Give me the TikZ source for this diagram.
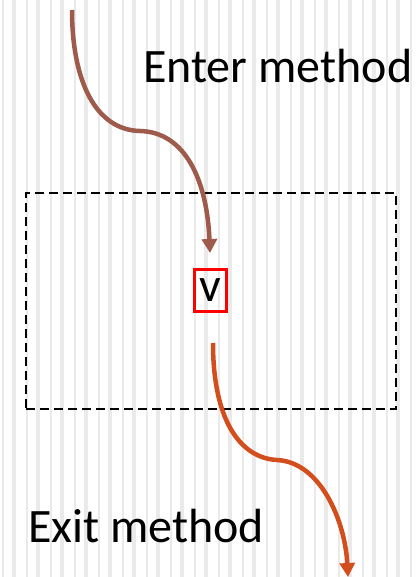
\documentclass[tikz,border=0pt]{standalone}
\usepackage{fontspec}
\setmainfont{Carlito}
\usetikzlibrary{arrows.meta}
\definecolor{stripe}{HTML}{EAEAEA}
\definecolor{enterbrown}{HTML}{9E5B4B}
\definecolor{exitorange}{HTML}{D24E1C}
\begin{document}
\begin{tikzpicture}[x=1pt,y=-1pt,
  caption/.style={font=\fontsize{48}{58}\selectfont, inner sep=0pt, anchor=base west},
  flow/.style={line width=4.5pt, -{Triangle[width=15pt,length=14pt]}},
  region/.style={draw=black, line width=2pt, dash pattern=on 9pt off 5pt,
    minimum width=370pt, minimum height=216pt, inner sep=0pt},
  var/.style={draw=red, line width=3pt, minimum width=32pt, minimum height=42pt,
    inner sep=0pt, font=\fontsize{48}{58}\selectfont}]
\useasboundingbox (0,0) rectangle (416,577);
\fill[white] (0,0) rectangle (416,577);
% striped backdrop
\foreach \k in {0,...,17} {
  \fill[stripe] ({2+24*\k},0) rectangle ({4+24*\k},577);
  \fill[stripe] ({12+24*\k},0) rectangle ({16+24*\k},577);
}
% method body
\node[region] (body) at (211,301) {};
\node[var] (v) at (210.5,290.5) {v};
% labels
\node[caption] (enter) at (143,83) {Enter method};
\node[caption] (exit) at (28,542) {Exit method};
% control flow in and out
\coordinate (enterStart) at (72,10);
\coordinate (enterEnd) at (210,253);
\coordinate (exitStart) at (213,343);
\coordinate (exitEnd) at (348,577);
\draw[flow, enterbrown] (enterStart) .. controls (72,80) and (95,130) .. (140,131)
  .. controls (185,132) and (207,180) .. (enterEnd);
\draw[flow, exitorange] (exitStart) .. controls (213,420) and (240,458) .. (277,460)
  .. controls (320,462) and (345,520) .. (exitEnd);
\end{tikzpicture}
\end{document}
